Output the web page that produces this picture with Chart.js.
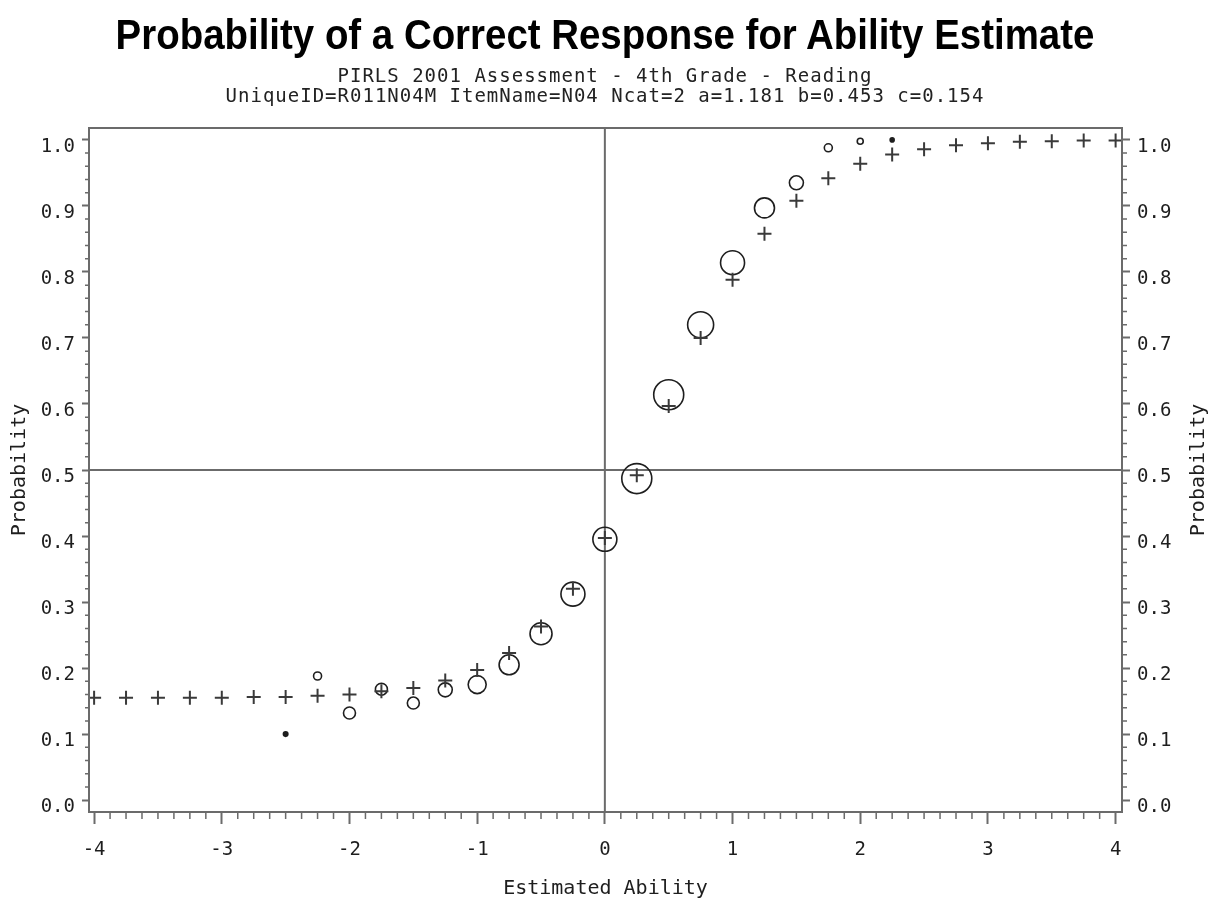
<!DOCTYPE html>
<html>
<head>
<meta charset="utf-8">
<title>Probability of a Correct Response for Ability Estimate</title>
<script src="https://cdn.jsdelivr.net/npm/chart.js@4.4.1/dist/chart.umd.min.js"></script>
<style>
  html, body { margin: 0; padding: 0; background: #fff; }
  #wrap { position: relative; width: 1210px; height: 905px; overflow: hidden; background: #fff; }
  #plot { position: absolute; left: 0; top: 0; }
  .title {
    position: absolute; left: 0; top: 14px; width: 1210px;
    text-align: center; white-space: nowrap; color: #000;
    font: bold 42px 'Liberation Sans', Arial, sans-serif; line-height: 42px;
    transform: scaleX(0.915); transform-origin: 605px 0;
  }
  .sub {
    position: absolute; left: 0; top: 65px; width: 1210px;
    text-align: center; white-space: pre; color: #222;
    font: 19px 'DejaVu Sans Mono', monospace; line-height: 20px; letter-spacing: 1px;
  }
</style>
</head>
<body>
<div id="wrap">
  <canvas id="plot" width="1210" height="905"></canvas>
  <div class="title">Probability of a Correct Response for Ability Estimate</div>
  <div class="sub">PIRLS 2001 Assessment - 4th Grade - Reading
UniqueID=R011N04M ItemName=N04 Ncat=2 a=1.181 b=0.453 c=0.154</div>
</div>
<script>
/* ---------- DATA ---------- */

// ability points of the model curve (+ markers)
const abilityGrid = [-4, -3.75, -3.5, -3.25, -3, -2.75, -2.5, -2.25, -2, -1.75, -1.5, -1.25,
  -1, -0.75, -0.5, -0.25, 0, 0.25, 0.5, 0.75, 1, 1.25, 1.5, 1.75, 2, 2.25, 2.5, 2.75,
  3, 3.25, 3.5, 3.75, 4];
const modelProb = [0.155, 0.155, 0.155, 0.155, 0.155, 0.156, 0.156, 0.158, 0.160, 0.165, 0.170, 0.181,
  0.197, 0.223, 0.263, 0.320, 0.397, 0.492, 0.597, 0.700, 0.788, 0.858, 0.908, 0.942, 0.964, 0.978, 0.986, 0.992,
  0.995, 0.997, 0.998, 0.999, 0.999];

// observed proportions (circles), marker area follows group count
const obsAbility = [-2.5, -2.25, -2, -1.75, -1.5, -1.25, -1, -0.75, -0.5, -0.25,
  0, 0.25, 0.5, 0.75, 1, 1.25, 1.5, 1.75, 2, 2.25];
const obsProb = [0.100, 0.188, 0.132, 0.168, 0.147, 0.167, 0.175, 0.205, 0.252, 0.312,
  0.395, 0.487, 0.614, 0.720, 0.814, 0.897, 0.935, 0.988, 0.998, 1.000];
const obsCount = [5, 16, 36, 36, 36, 49, 81, 100, 121, 144,
  144, 225, 225, 169, 144, 100, 49, 16, 9, 4];

const xTickValues = [-4, -3, -2, -1, 0, 1, 2, 3, 4];
const yTickValues = [0, 0.1, 0.2, 0.3, 0.4, 0.5, 0.6, 0.7, 0.8, 0.9, 1.0];

/* ---------- STYLE ---------- */

const MONO = "'DejaVu Sans Mono', monospace";
const AXIS_GRAY = '#6b6b6b';
const INK = '#1e1e1e';

/* ---------- FRAME / REFERENCE LINES / MINOR TICKS ---------- */

const framePlugin = {
  id: 'frame',
  beforeDatasetsDraw(chart) {
    const { ctx, chartArea: a, scales: { x, y } } = chart;
    const x0 = x.getPixelForValue(0);
    const yHalf = y.getPixelForValue(0.5);
    ctx.save();
    ctx.strokeStyle = AXIS_GRAY;
    ctx.lineWidth = 2;
    ctx.beginPath();
    ctx.moveTo(x0, a.top); ctx.lineTo(x0, a.bottom);
    ctx.moveTo(a.left, yHalf); ctx.lineTo(a.right, yHalf);
    ctx.stroke();
    ctx.restore();
  },
  afterDraw(chart) {
    const { ctx, chartArea: a, scales: { x, y } } = chart;
    ctx.save();
    ctx.strokeStyle = AXIS_GRAY;
    ctx.lineWidth = 2;
    ctx.strokeRect(a.left, a.top, a.right - a.left, a.bottom - a.top);

    ctx.lineWidth = 1.5;
    ctx.beginPath();
    for (let k = -32; k <= 32; k++) {
      if (k % 8 === 0) continue;
      const px = x.getPixelForValue(k / 8);
      ctx.moveTo(px, a.bottom); ctx.lineTo(px, a.bottom + 7);
    }
    for (let k = 0; k <= 50; k++) {
      if (k % 5 === 0) continue;
      const py = y.getPixelForValue(k / 50);
      ctx.moveTo(a.left - 4, py); ctx.lineTo(a.left, py);
      ctx.moveTo(a.right, py); ctx.lineTo(a.right + 5, py);
    }
    ctx.stroke();

    // right-hand axis title reads bottom-to-top like the left one
    ctx.fillStyle = INK;
    ctx.font = '20px ' + MONO;
    ctx.textAlign = 'center';
    ctx.textBaseline = 'middle';
    ctx.translate(1199, (a.top + a.bottom) / 2);
    ctx.rotate(-Math.PI / 2);
    ctx.fillText('Probability', 0, 0);
    ctx.restore();
  }
};

/* ---------- CHART ---------- */

const yTicksOpts = {
  font: { family: MONO, size: 19 },
  color: INK,
  padding: 7,
  labelOffset: 7,
  callback: v => v.toFixed(1)
};

new Chart(document.getElementById('plot'), {
  type: 'scatter',
  data: {
    datasets: [
      {
        label: 'Model',
        data: abilityGrid.map((v, i) => ({ x: v, y: modelProb[i] })),
        pointStyle: 'cross',
        pointRadius: 7,
        pointBorderWidth: 2,
        pointBorderColor: '#3a3a3a',
        showLine: false
      },
      {
        label: 'Observed',
        data: obsAbility.map((v, i) => ({ x: v, y: obsProb[i] })),
        pointStyle: 'circle',
        pointRadius: obsCount.map(n => Math.sqrt(n)),
        pointBorderWidth: 1.6,
        pointBorderColor: INK,
        pointBackgroundColor: obsCount.map(n => n <= 6 ? INK : 'rgba(0,0,0,0)'),
        showLine: false
      }
    ]
  },
  options: {
    responsive: false,
    maintainAspectRatio: false,
    devicePixelRatio: 1,
    animation: false,
    events: [],
    layout: { padding: { top: 128, left: 0, right: 0, bottom: 0 } },
    plugins: {
      legend: { display: false },
      title: { display: false },
      tooltip: { enabled: false }
    },
    scales: {
      x: {
        type: 'linear',
        position: 'bottom',
        min: -4.04,
        max: 4.05,
        afterBuildTicks: s => { s.ticks = xTickValues.map(v => ({ value: v })); },
        afterFit: s => { s.height = 93; },
        ticks: {
          font: { family: MONO, size: 19 },
          color: INK,
          padding: 15,
          autoSkip: false,
          maxRotation: 0,
          callback: v => String(v)
        },
        grid: { drawOnChartArea: false, tickLength: 12, color: AXIS_GRAY, tickWidth: 2 },
        border: { display: false },
        title: {
          display: true,
          text: 'Estimated Ability',
          font: { family: MONO, size: 20 },
          color: INK,
          padding: { top: 0, bottom: 4 }
        }
      },
      y: {
        type: 'linear',
        position: 'left',
        min: -0.018,
        max: 1.018,
        afterBuildTicks: s => { s.ticks = yTickValues.map(v => ({ value: v })); },
        afterFit: s => { s.width = 89; },
        ticks: yTicksOpts,
        grid: { drawOnChartArea: false, tickLength: 7, color: AXIS_GRAY, tickWidth: 2 },
        border: { display: false },
        title: {
          display: true,
          text: 'Probability',
          font: { family: MONO, size: 20 },
          color: INK,
          padding: { top: 8, bottom: 0 }
        }
      },
      y2: {
        type: 'linear',
        position: 'right',
        min: -0.018,
        max: 1.018,
        afterBuildTicks: s => { s.ticks = yTickValues.map(v => ({ value: v })); },
        afterFit: s => { s.width = 88; },
        ticks: yTicksOpts,
        grid: { drawOnChartArea: false, tickLength: 8, color: AXIS_GRAY, tickWidth: 2 },
        border: { display: false }
      }
    }
  },
  plugins: [framePlugin]
});
</script>
</body>
</html>
